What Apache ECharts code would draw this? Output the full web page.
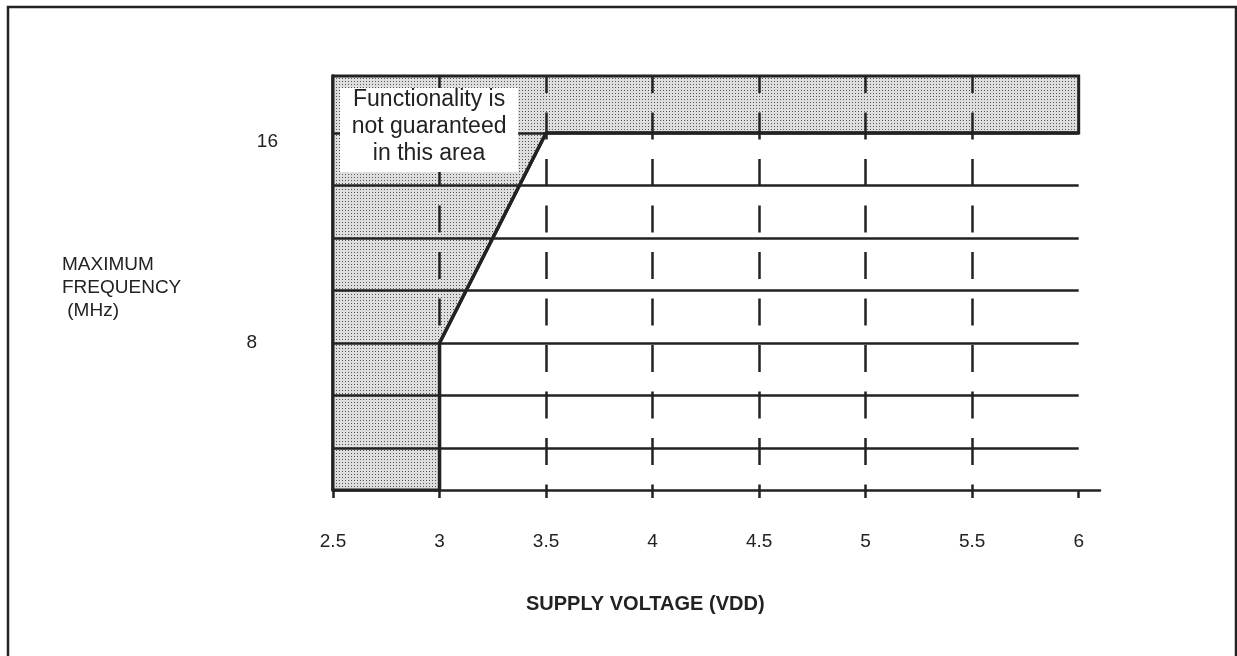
<!DOCTYPE html>
<html>
<head>
<meta charset="utf-8">
<script src="https://cdn.jsdelivr.net/npm/echarts@6/dist/echarts.min.js"></script>
<style>
  html, body { margin: 0; padding: 0; background: #fff; }
  #chart { width: 1237px; height: 656px; }
</style>
</head>
<body>
<div id="chart"></div>
<script>
// axis ranges and labels
var xMin = 2.5, xMax = 6.1, xEnd = 6;
var yMin = 2.4, yMax = 18.17;
var yLabelValues = [8, 16];

// solid horizontal grid levels (MHz) and dashed vertical lines (V)
var gridLevels = [4, 6, 8, 10, 12, 14];
var dashedVolts = [3.5, 4, 4.5, 5, 5.5];

// guaranteed operating boundary
var boundaryVolt = [3, 3, 3.5, 6];
var boundaryFreq = [2.4, 8, 16, 16];

// shaded "not guaranteed" region
var shadeVolt = [2.5, 3, 3, 3.5, 6, 6, 2.5];
var shadeFreq = [2.4, 2.4, 8, 16, 16, 18.17, 18.17];

// note box (volt/freq corners) and text
var noteBox = [2.533, 17.71, 3.369, 14.51];
var noteText = 'Functionality is\nnot guaranteed\nin this area';

var ink = '#222';

// dotted grey fill
var tile = document.createElement('canvas');
tile.width = 3; tile.height = 3;
var tctx = tile.getContext('2d');
tctx.fillStyle = '#dedede';
tctx.fillRect(0, 0, 3, 3);
tctx.fillStyle = '#555';
tctx.fillRect(0, 0, 1, 1);
var dots = { image: tile, repeat: 'repeat' };

var lines = [];
gridLevels.forEach(function (f) {
  lines.push([{ coord: [xMin, f] }, { coord: [xEnd, f] }]);
});
lines.push([{ coord: [xMin, 16] }, { coord: [3.5, 16] }]);

var dashes = [];
dashedVolts.forEach(function (v) {
  dashes.push([{ coord: [v, yMax] }, { coord: [v, yMin] }]);
});
dashes.push([{ coord: [3, yMax] }, { coord: [3, 8] }]);

var boundary = boundaryVolt.map(function (v, i) { return [v, boundaryFreq[i]]; });

var myChart = echarts.init(document.getElementById('chart'));
var option = {
  animation: false,
  title: [
    {
      text: 'SUPPLY VOLTAGE (VDD)',
      left: 521,
      top: 589,
      textStyle: { fontFamily: 'Liberation Sans', fontSize: 20, fontWeight: 'bold', color: ink }
    },
    {
      // y axis caption, left aligned block
      text: 'MAXIMUM\nFREQUENCY\n (MHz)',
      left: 57,
      top: 248,
      textStyle: { fontFamily: 'Liberation Sans', fontSize: 19, fontWeight: 'normal', lineHeight: 23, color: ink }
    }
  ],
  graphic: [{
    type: 'rect',
    shape: { x: 8, y: 7, width: 1228, height: 720 },
    style: { fill: 'none', stroke: ink, lineWidth: 2.5 },
    z: 100
  }],
  grid: { left: 333, right: 137, top: 76, bottom: 166 },
  xAxis: {
    type: 'value',
    min: xMin,
    max: xMax,
    interval: 0.5,
    axisLine: { show: true, lineStyle: { color: ink, width: 2.5 } },
    axisTick: { show: true, length: 8, lineStyle: { color: ink, width: 2.5 } },
    axisLabel: {
      margin: 42,
      fontFamily: 'Liberation Sans',
      fontSize: 19,
      color: ink,
      showMaxLabel: false,
      formatter: function (v) { return v > 6.01 ? '' : String(v); }
    },
    splitLine: { show: false }
  },
  yAxis: {
    type: 'value',
    min: yMin,
    max: yMax,
    axisLine: { show: true, lineStyle: { color: ink, width: 3.5 } },
    axisTick: { show: false },
    splitLine: { show: false },
    axisLabel: {
      customValues: yLabelValues,
      margin: 55,
      formatter: function (v) { return v === 16 ? '{a|16}' : '{b|' + v + '}'; },
      rich: {
        a: { fontFamily: 'Liberation Sans', fontSize: 19, color: ink, padding: [18, 0, 0, 0] },
        b: { fontFamily: 'Liberation Sans', fontSize: 19, color: ink, padding: [0, 21, 0, 0] }
      }
    }
  },
  series: [
    {
      type: 'custom',
      z: 1,
      silent: true,
      data: [0],
      renderItem: function (params, api) {
        var pts = shadeVolt.map(function (v, i) { return api.coord([v, shadeFreq[i]]); });
        return {
          type: 'polygon',
          shape: { points: pts },
          style: { fill: dots, stroke: ink, lineWidth: 3 }
        };
      }
    },
    {
      type: 'line',
      z: 3,
      silent: true,
      data: boundary,
      symbol: 'none',
      lineStyle: { color: ink, width: 3.5 },
      markLine: {
        silent: true,
        symbol: ['none', 'none'],
        label: { show: false },
        lineStyle: { color: ink, width: 2.5, type: 'solid' },
        data: lines
      }
    },
    {
      type: 'line',
      z: 2,
      silent: true,
      data: [],
      markLine: {
        silent: true,
        symbol: ['none', 'none'],
        label: { show: false },
        lineStyle: { color: ink, width: 2.5, type: [27, 19.5], dashOffset: 10 },
        data: dashes
      }
    },
    {
      type: 'custom',
      z: 10,
      silent: true,
      data: [0],
      renderItem: function (params, api) {
        var p1 = api.coord([noteBox[0], noteBox[1]]);
        var p2 = api.coord([noteBox[2], noteBox[3]]);
        return {
          type: 'group',
          children: [
            {
              type: 'rect',
              shape: { x: p1[0], y: p1[1], width: p2[0] - p1[0], height: p2[1] - p1[1] },
              style: { fill: '#fff' }
            },
            {
              type: 'text',
              style: {
                text: noteText,
                x: (p1[0] + p2[0]) / 2,
                y: (p1[1] + p2[1]) / 2 - 3,
                align: 'center',
                verticalAlign: 'middle',
                fontFamily: 'Liberation Sans',
                fontSize: 23,
                lineHeight: 27,
                fill: ink
              }
            }
          ]
        };
      }
    }
  ]
};
myChart.setOption(option);
window.addEventListener('resize', function () { myChart.resize(); });
</script>
</body>
</html>
